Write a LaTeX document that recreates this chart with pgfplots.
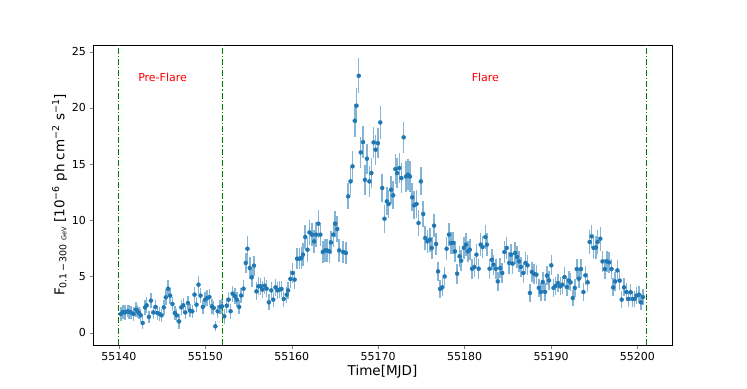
\documentclass[border=0pt]{standalone}
\usepackage{fontspec}
\setmainfont{DejaVu Sans}
\usepackage{pgfplots}
\usepackage{pgfplotstable}
\pgfplotsset{compat=1.18}
\definecolor{cblue}{RGB}{31,119,180}
\definecolor{lgreen}{RGB}{0,128,0}

% light curve: MJD, flux, error
\pgfplotstableread{
x y e
55140.23 1.66 0.6
55140.46 1.84 0.6
55140.72 1.80 0.65
55141.00 1.90 0.55
55141.18 1.84 0.6
55141.41 1.80 0.55
55141.69 1.66 0.6
55141.95 2.05 0.65
55142.14 1.90 0.6
55142.33 1.75 0.55
55142.52 1.54 0.55
55142.75 0.86 0.5
55143.02 2.25 0.65
55143.21 2.43 0.7
55143.47 1.40 0.55
55143.70 2.85 0.7
55143.98 1.80 0.6
55144.24 2.29 0.65
55144.44 1.75 0.6
55144.70 1.66 0.6
55144.93 1.54 0.6
55145.19 2.25 0.65
55145.42 3.14 0.7
55145.70 3.91 0.75
55145.93 3.29 0.7
55146.19 2.55 0.65
55146.46 1.75 0.6
55146.69 1.54 0.6
55146.96 1.00 0.65
55147.22 2.25 0.65
55147.45 2.43 0.65
55147.68 1.80 0.6
55147.99 2.64 0.65
55148.22 1.96 0.6
55148.49 1.90 0.6
55148.75 3.38 0.7
55148.98 2.49 0.65
55149.21 4.27 0.8
55149.44 3.30 0.7
55149.71 2.29 0.65
55149.98 2.94 0.7
55150.21 3.08 0.7
55150.47 3.17 0.7
55150.75 2.34 0.65
55150.97 2.20 0.65
55151.16 0.56 0.45
55151.43 1.90 0.6
55151.70 2.29 0.65
55151.93 2.34 0.65
55152.19 1.45 0.65
55152.47 2.40 0.65
55152.69 2.94 0.7
55152.92 1.90 0.65
55153.15 3.47 0.7
55153.42 3.23 0.7
55153.65 2.94 0.65
55153.91 2.29 0.65
55154.14 3.30 0.7
55154.42 3.91 0.75
55154.68 6.20 0.9
55154.87 7.47 1.15
55155.14 5.75 0.95
55155.37 4.92 0.85
55155.63 5.96 0.9
55155.91 3.67 0.8
55156.14 4.12 0.8
55156.40 4.12 0.75
55156.59 3.83 0.75
55156.86 4.18 0.75
55157.09 3.91 0.75
55157.35 2.70 0.7
55157.63 3.76 0.75
55157.86 2.94 0.7
55158.12 4.03 0.75
55158.35 3.76 0.75
55158.58 3.83 0.75
55158.81 3.89 0.75
55159.07 3.00 0.7
55159.41 3.38 0.7
55159.58 3.76 0.75
55159.84 4.78 0.8
55160.10 5.31 0.85
55160.33 4.72 0.8
55160.61 6.58 0.95
55160.87 6.58 0.95
55161.10 6.64 0.95
55161.30 6.94 1.0
55161.56 8.51 1.05
55161.82 7.38 1.05
55162.05 8.92 1.1
55162.33 8.72 1.05
55162.59 8.12 1.05
55162.82 8.72 1.1
55163.08 9.70 1.25
55163.31 8.72 1.05
55163.59 7.18 1.0
55163.85 7.32 1.0
55164.08 7.32 1.0
55164.35 7.23 1.0
55164.54 8.03 1.05
55164.81 8.72 1.1
55165.03 9.70 1.15
55165.26 9.22 1.15
55165.49 7.32 1.0
55165.95 7.18 0.95
55166.26 7.09 0.95
55166.53 12.13 1.15
55166.80 13.46 1.25
55167.03 14.80 1.35
55167.29 18.86 1.45
55167.49 20.20 1.55
55167.75 22.86 1.55
55167.98 16.04 1.35
55168.25 16.96 1.45
55168.47 13.60 1.35
55168.70 15.48 1.35
55168.98 13.46 1.35
55169.21 14.20 1.35
55169.47 16.93 1.35
55169.70 16.28 1.35
55169.97 16.87 1.35
55170.24 18.71 1.45
55170.47 12.87 1.25
55170.73 10.14 1.25
55171.00 11.68 1.25
55171.22 11.45 1.25
55171.50 12.72 1.25
55171.73 12.22 1.25
55171.99 14.56 1.35
55172.19 14.20 1.35
55172.45 14.65 1.35
55172.68 13.76 1.35
55172.95 17.38 1.35
55173.22 13.90 1.35
55173.45 14.06 1.35
55173.68 13.90 1.35
55173.94 12.04 1.25
55174.17 11.33 1.25
55174.44 11.45 1.25
55174.67 9.76 1.15
55174.94 13.46 1.25
55175.21 10.56 1.15
55175.44 8.42 1.05
55175.70 8.12 1.05
55175.97 8.27 1.05
55176.20 7.54 1.0
55176.47 9.52 1.05
55176.70 7.89 1.0
55176.93 5.45 0.85
55177.16 3.89 0.8
55177.42 4.03 0.8
55177.69 5.00 0.85
55177.92 7.47 1.0
55178.19 8.72 1.05
55178.42 7.98 1.0
55178.68 7.98 1.0
55178.88 7.23 0.95
55179.14 5.25 0.9
55179.42 6.79 0.95
55179.60 6.40 0.95
55179.91 7.54 0.95
55180.17 7.83 1.0
55180.37 7.23 0.95
55180.60 7.38 0.95
55180.86 5.69 0.9
55181.14 5.85 0.9
55181.37 6.94 0.95
55181.63 5.69 0.9
55181.86 7.83 1.0
55182.09 7.62 1.0
55182.40 8.51 1.05
55182.58 7.83 1.0
55182.89 5.69 0.9
55183.15 6.49 0.95
55183.35 6.05 0.9
55183.61 5.69 0.9
55183.84 4.56 0.85
55184.12 5.75 0.9
55184.35 5.31 0.9
55184.61 7.18 0.95
55184.87 7.54 1.0
55185.15 6.20 0.95
55185.38 6.94 0.95
55185.56 6.14 0.95
55185.84 7.09 0.95
55186.07 6.73 0.95
55186.30 6.34 0.95
55186.52 5.85 0.9
55186.79 5.31 0.9
55187.05 6.20 0.95
55187.28 5.99 0.9
55187.56 3.53 0.8
55187.79 5.40 0.9
55188.05 5.22 0.9
55188.31 5.16 0.85
55188.59 3.98 0.8
55188.82 3.62 0.8
55189.05 4.51 0.85
55189.31 3.62 0.8
55189.54 5.07 0.85
55189.77 4.65 0.85
55190.03 5.99 0.9
55190.29 3.98 0.8
55190.52 4.15 0.8
55190.80 4.42 0.8
55191.07 4.12 0.8
55191.30 4.27 0.8
55191.57 4.95 0.85
55191.83 4.06 0.8
55192.06 4.63 0.85
55192.26 4.48 0.8
55192.52 3.08 0.75
55192.75 3.98 0.8
55192.98 5.66 0.9
55193.21 4.80 0.85
55193.47 5.66 0.9
55193.75 3.62 0.8
55193.98 5.10 0.85
55194.24 4.48 0.85
55194.47 8.07 1.05
55194.70 8.57 1.05
55194.93 7.54 1.0
55195.20 7.59 1.0
55195.39 8.07 1.05
55195.70 8.36 1.05
55195.96 6.34 0.95
55196.23 5.66 0.9
55196.46 6.34 0.95
55196.73 6.25 0.95
55197.00 5.66 0.9
55197.19 4.03 0.8
55197.42 4.56 0.85
55197.68 5.54 0.9
55197.95 4.63 0.85
55198.18 2.94 0.75
55198.45 4.03 0.8
55198.72 3.62 0.8
55198.94 3.00 0.75
55199.21 3.59 0.75
55199.44 3.00 0.75
55199.67 3.00 0.75
55199.90 3.30 0.75
55200.17 3.38 0.75
55200.40 2.70 0.7
55200.63 3.17 0.7
}\lc

\begin{document}
\begin{tikzpicture}
\begin{axis}[
    scale only axis,
    width=579pt, height=300pt,
    xmin=55137, xmax=55204,
    ymin=-1.1, ymax=25.6,
    xtick={55140,55150,...,55200},
    ytick={0,5,...,25},
    scaled x ticks=false,
    x tick label style={/pgf/number format/1000 sep={}},
    /pgf/number format/assume math mode=true,
    tick label style={font=\fontsize{11}{13}\selectfont},
    tick align=outside, tick pos=left,
    major tick length=3.5pt,
    axis line style={line width=0.6pt},
    xlabel={Time[MJD]},
    ylabel={F\textsubscript{0.1\,−\,300 {\fontsize{6.5}{7}\selectfont GeV}} [10\textsuperscript{−6} ph cm\textsuperscript{−2} s\textsuperscript{−1}]},
    label style={font=\fontsize{13.5}{16}\selectfont},
    xlabel style={yshift=2pt},
    ylabel style={yshift=-2pt},
    clip=false,
]
\addplot[only marks, mark=*, mark size=2pt, color=cblue,
    error bars/.cd, y dir=both, y explicit,
    error mark=none,
    error bar style={line width=1.5pt, cblue, draw opacity=0.55}]
    table[x=x, y=y, y error=e] {\lc};
\addplot[lgreen, line width=1.1pt, dash pattern=on 6pt off 2pt on 1.2pt off 2pt]
    coordinates {(55140,-1.1) (55140,25.6)};
\addplot[lgreen, line width=1.1pt, dash pattern=on 6pt off 2pt on 1.2pt off 2pt]
    coordinates {(55152,-1.1) (55152,25.6)};
\addplot[lgreen, line width=1.1pt, dash pattern=on 6pt off 2pt on 1.2pt off 2pt]
    coordinates {(55201,-1.1) (55201,25.6)};
\node[red, font=\fontsize{11}{13}\selectfont] at (axis cs:55145.05,22.7) {Pre-Flare};
\node[red, font=\fontsize{11}{13}\selectfont] at (axis cs:55182.4,22.7) {Flare};
\end{axis}
\pgfresetboundingbox
\path[use as bounding box] ([xshift=-93pt,yshift=-43pt]current axis.south west)
    rectangle ([xshift=75pt,yshift=45pt]current axis.north east);
\end{tikzpicture}
\end{document}
